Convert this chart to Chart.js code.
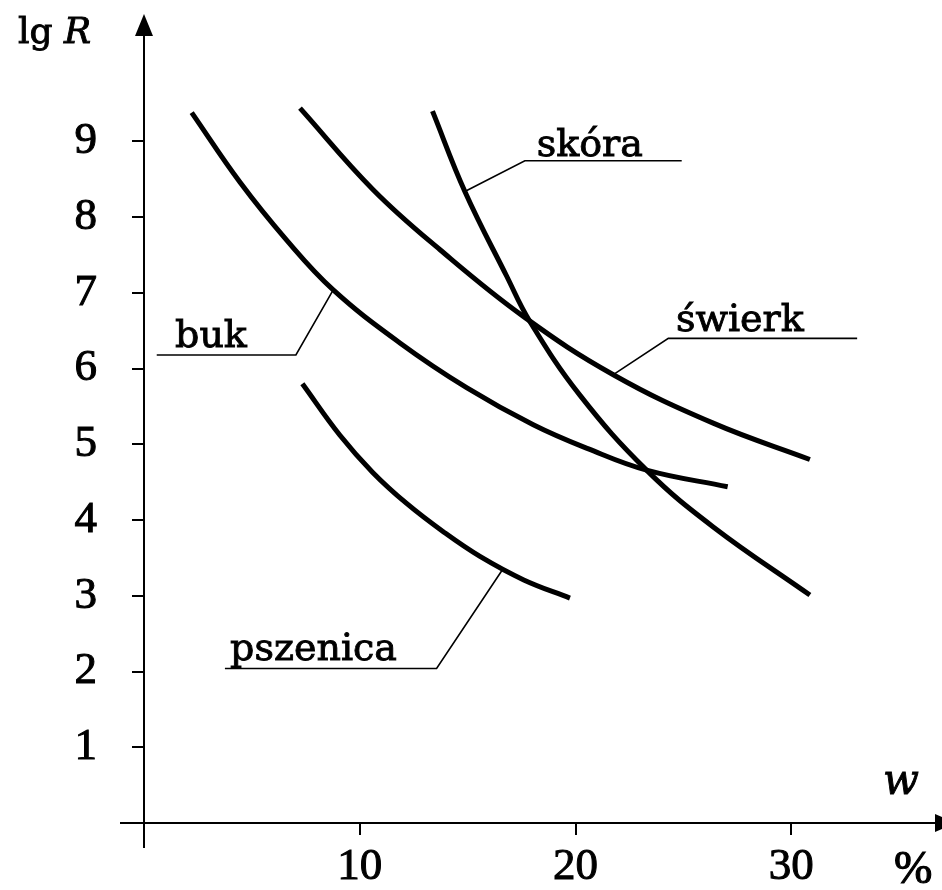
<!DOCTYPE html>
<html><head><meta charset="utf-8">
<script src="https://cdn.jsdelivr.net/npm/chart.js@4/dist/chart.umd.min.js"></script>
<style>html,body{margin:0;padding:0;background:#fff;}canvas{display:block;}</style>
</head><body>
<canvas id="c" width="942" height="890"></canvas>
<script>
// ---- data (w in %, lg R) ----
const xTicks = [10, 20, 30];
const yTicks = [1, 2, 3, 4, 5, 6, 7, 8, 9];
const seriesNames = ['buk', 'świerk', 'skóra', 'pszenica'];
const bukW = [2.21, 4.45, 6.6, 8.77, 11.86, 14.95, 18.04, 20.6, 23.29, 27.05];
const bukLgR = [9.38, 8.46, 7.70, 7.04, 6.34, 5.75, 5.26, 4.94, 4.66, 4.44];
const swierkW = [7.23, 10.63, 13.72, 17.58, 21.75, 26.38, 30.86];
const swierkLgR = [9.44, 8.36, 7.57, 6.69, 5.92, 5.28, 4.80];
const skoraW = [13.37, 14.87, 16.81, 17.89, 20.20, 23.29, 26.38, 30.86];
const skoraLgR = [9.40, 8.34, 7.22, 6.62, 5.65, 4.66, 3.91, 3.01];
const pszenicaW = [7.34, 9.08, 10.6, 12.17, 13.9, 15.57, 17.6, 19.74];
const pszenicaLgR = [5.80, 5.12, 4.63, 4.22, 3.84, 3.52, 3.21, 2.97];

// ---- annotation layout (label anchor + leader line, in axis units) ----
const labelLayout = {
  'skóra':    { at: [18.20, 8.81], leader: [[14.87, 8.34], [17.65, 8.745], [24.92, 8.745]] },
  'świerk':   { at: [24.65, 6.50], leader: [[21.75, 5.92], [24.30, 6.40], [33.05, 6.40]] },
  'buk':      { at: [1.44, 6.29],  leader: [[8.77, 7.04], [7.04, 6.18], [0.59, 6.18]] },
  'pszenica': { at: [3.99, 2.15],  leader: [[16.65, 3.36], [13.56, 2.04], [3.75, 2.04]] }
};

const zip = (xs, ys) => xs.map((x, i) => ({ x: x, y: ys[i] }));
const curves = [zip(bukW, bukLgR), zip(swierkW, swierkLgR), zip(skoraW, skoraLgR), zip(pszenicaW, pszenicaLgR)];

const datasets = curves.map((pts, i) => ({
  label: seriesNames[i], data: pts, borderColor: '#000', borderWidth: 5,
  pointRadius: 0, tension: 0.4, fill: false, borderCapStyle: 'butt'
}));
seriesNames.forEach(n => {
  datasets.push({
    label: n + ' leader', data: labelLayout[n].leader.map(p => ({ x: p[0], y: p[1] })),
    borderColor: '#000', borderWidth: 1.6, pointRadius: 0, tension: 0, fill: false
  });
});

const SERIF = '"DejaVu Serif", serif';
const DIGITS = '"Liberation Serif", "Times New Roman", serif';

function heavyText(ctx, t, x, y, w) {
  ctx.fillText(t, x, y);
  ctx.lineWidth = w; ctx.strokeText(t, x, y);
}

const drawPlugin = {
  id: 'figure',
  beforeDatasetsDraw(chart) {
    const ctx = chart.ctx, xs = chart.scales.x, ys = chart.scales.y;
    const ax = xs.getPixelForValue(0), ay = ys.getPixelForValue(0);
    const ca = chart.chartArea;
    ctx.save();
    ctx.strokeStyle = '#000'; ctx.fillStyle = '#000'; ctx.lineWidth = 2;
    // y axis
    ctx.beginPath(); ctx.moveTo(ax, ay + 25); ctx.lineTo(ax, ca.top + 18); ctx.stroke();
    ctx.beginPath(); ctx.moveTo(ax, ca.top - 1); ctx.lineTo(ax - 9, ca.top + 21); ctx.lineTo(ax + 9, ca.top + 21); ctx.closePath(); ctx.fill();
    // x axis
    ctx.beginPath(); ctx.moveTo(ax - 24, ay); ctx.lineTo(ca.right, ay); ctx.stroke();
    ctx.beginPath(); ctx.moveTo(ca.right - 5, ay - 9); ctx.lineTo(ca.right + 16, ay); ctx.lineTo(ca.right - 5, ay + 9); ctx.closePath(); ctx.fill();
    ctx.restore();
  },
  afterDatasetsDraw(chart) {
    const ctx = chart.ctx, xs = chart.scales.x, ys = chart.scales.y;
    const ax = xs.getPixelForValue(0), ay = ys.getPixelForValue(0);
    const ca = chart.chartArea;
    ctx.save();
    ctx.fillStyle = '#000'; ctx.strokeStyle = '#000';
    ctx.textAlign = 'left'; ctx.textBaseline = 'alphabetic';
    ctx.font = '38px ' + SERIF;
    seriesNames.forEach(n => {
      const a = labelLayout[n].at;
      heavyText(ctx, n, xs.getPixelForValue(a[0]), ys.getPixelForValue(a[1]), 0.9);
    });
    // axis titles
    ctx.font = '36px ' + SERIF;
    heavyText(ctx, 'lg', ax - 126, ca.top + 28, 0.9);
    ctx.font = 'italic 36px ' + SERIF;
    heavyText(ctx, 'R', ax - 80, ca.top + 28, 0.9);
    ctx.font = 'italic 42px ' + SERIF;
    heavyText(ctx, 'w', ca.right - 57, ay - 29, 0.9);
    ctx.font = '46px ' + DIGITS;
    heavyText(ctx, '%', ca.right - 46, ay + 60, 1.2);
    ctx.restore();
  }
};

const tickFont = { family: DIGITS, size: 45 };

new Chart(document.getElementById('c'), {
  type: 'line',
  data: { datasets: datasets },
  options: {
    responsive: false, animation: false, devicePixelRatio: 1,
    layout: { padding: { top: 15, right: 2, left: 0, bottom: 0 }, autoPadding: false },
    plugins: { legend: { display: false }, tooltip: { enabled: false } },
    scales: {
      x: {
        type: 'linear', min: 0, max: 36.89,
        afterBuildTicks: s => { s.ticks = xTicks.map(v => ({ value: v })); },
        afterFit: s => { s.height = 67; s.paddingLeft = 0; s.paddingRight = 0; },
        grid: { display: true, drawOnChartArea: false, drawTicks: true, tickLength: 12, color: '#000', lineWidth: 2 },
        border: { display: false },
        ticks: { color: '#000', font: tickFont, textStrokeColor: '#000', textStrokeWidth: 1.0, padding: 5, maxRotation: 0, autoSkip: false, callback: v => String(v) }
      },
      y: {
        type: 'linear', min: 0, max: 10.67,
        afterBuildTicks: s => { s.ticks = yTicks.map(v => ({ value: v })); },
        afterFit: s => { s.width = 144; s.paddingTop = 0; s.paddingBottom = 0; },
        grid: { display: true, drawOnChartArea: false, drawTicks: true, tickLength: 12, color: '#000', lineWidth: 2 },
        border: { display: false },
        ticks: { color: '#000', font: tickFont, textStrokeColor: '#000', textStrokeWidth: 1.0, padding: 35, autoSkip: false, callback: v => String(v) }
      }
    }
  },
  plugins: [drawPlugin]
});
</script>
</body></html>
